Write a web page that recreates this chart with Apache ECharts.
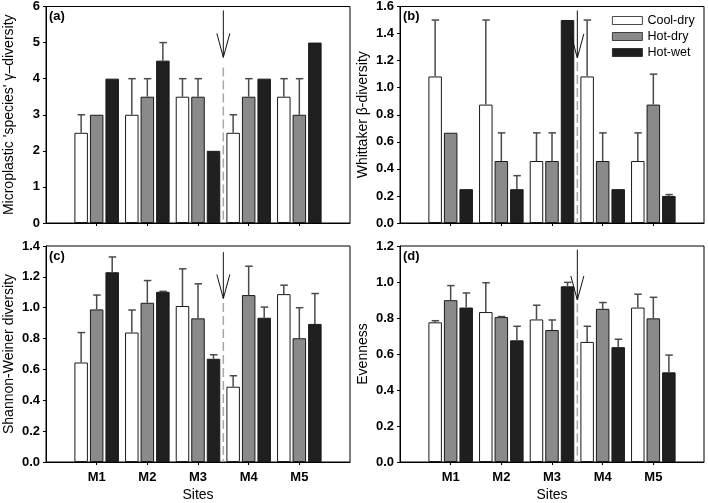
<!DOCTYPE html>
<html><head><meta charset="utf-8">
<script src="https://cdn.jsdelivr.net/npm/echarts@6/dist/echarts.min.js"></script>
<style>html,body{margin:0;padding:0;background:#fff}#c{width:708px;height:503px}</style>
</head><body><div id="c"></div>
<script>
// ---------- data ----------
const categories = ['M1', 'M2', 'M3', 'M4', 'M5'];
const seriesNames = ['Cool-dry', 'Hot-dry', 'Hot-wet'];

// (a) Microplastic 'species' gamma-diversity
const gammaCool = [2.5, 3.0, 3.5, 2.5, 3.5];
const gammaCoolSE = [0.5, 1.0, 0.5, 0.5, 0.5];
const gammaHotDry = [3.0, 3.5, 3.5, 3.5, 3.0];
const gammaHotDrySE = [0, 0.5, 0.5, 0.5, 1.0];
const gammaHotWet = [4.0, 4.5, 2.0, 4.0, 5.0];
const gammaHotWetSE = [0, 0.5, 0, 0, 0];

// (b) Whittaker beta-diversity
const betaCool = [1.083, 0.875, 0.458, 1.083, 0.458];
const betaCoolSE = [0.417, 0.625, 0.208, 0.417, 0.208];
const betaHotDry = [0.667, 0.458, 0.458, 0.458, 0.875];
const betaHotDrySE = [0, 0.208, 0.208, 0.208, 0.225];
const betaHotWet = [0.25, 0.25, 1.5, 0.25, 0.2];
const betaHotWetSE = [0, 0.1, 0, 0, 0.01];

// (c) Shannon-Weiner diversity
const shannonCool = [0.645, 0.839, 1.011, 0.488, 1.088];
const shannonCoolSE = [0.194, 0.146, 0.241, 0.071, 0.058];
const shannonHotDry = [0.989, 1.032, 0.931, 1.082, 0.802];
const shannonHotDrySE = [0.093, 0.144, 0.224, 0.187, 0.198];
const shannonHotWet = [1.23, 1.103, 0.669, 0.935, 0.895];
const shannonHotWetSE = [0.099, 0.003, 0.026, 0.069, 0.197];

// (d) Evenness
const evenCool = [0.776, 0.833, 0.792, 0.667, 0.858];
const evenCoolSE = [0.009, 0.163, 0.079, 0.087, 0.074];
const evenHotDry = [0.899, 0.805, 0.733, 0.851, 0.798];
const evenHotDrySE = [0.081, 0.003, 0.056, 0.035, 0.117];
const evenHotWet = [0.858, 0.676, 0.976, 0.638, 0.498];
const evenHotWetSE = [0.081, 0.078, 0.022, 0.044, 0.096];

// y-axis ranges / ticks
const yMax = [6, 1.6, 1.4, 1.2];
const yStep = [1, 0.2, 0.2, 0.2];
const yNames = ["Microplastic 'species' \u03b3\u2013diversity", 'Whittaker \u03b2-diversity', 'Shannon-Weiner diversity', 'Evenness'];
const panelLabels = ['(a)', '(b)', '(c)', '(d)'];
// arrow annotation between M3 and M4: [x position, arrow top, arrow tip, dashed line top]
const arrowA = [3.5, 5.89, 4.59, 4.31];
const arrowB = [3.5, 1.57, 1.22, 1.19];
const arrowC = [3.5, 1.36, 1.06, 1.03];
const arrowD = [3.5, 1.18, 0.90, 0.88];

// ---------- styles ----------
const FONT = 'Liberation Sans, Arial, sans-serif';
const fills = ['#ffffff', '#8a8a8a', '#1f1f1f'];
const BAR_W = 13.5, BAR_GAP = 0.15;
const BAR_STEP = BAR_W * (1 + BAR_GAP);
const ERR_COLOR = '#4a4a4a';
const grids = [
  {left: 46, top: 6, width: 304, height: 217},
  {left: 400, top: 6, width: 304, height: 217},
  {left: 46, top: 246, width: 304, height: 217},
  {left: 400, top: 246, width: 304, height: 217}
];

const panels = [
  {vals: [gammaCool, gammaHotDry, gammaHotWet], se: [gammaCoolSE, gammaHotDrySE, gammaHotWetSE], arrow: arrowA},
  {vals: [betaCool, betaHotDry, betaHotWet], se: [betaCoolSE, betaHotDrySE, betaHotWetSE], arrow: arrowB},
  {vals: [shannonCool, shannonHotDry, shannonHotWet], se: [shannonCoolSE, shannonHotDrySE, shannonHotWetSE], arrow: arrowC},
  {vals: [evenCool, evenHotDry, evenHotWet], se: [evenCoolSE, evenHotDrySE, evenHotWetSE], arrow: arrowD}
];

function errRender(k) {
  return function (params, api) {
    const x = api.value(0), v = api.value(1), e = api.value(2);
    if (!e) return null;
    const p0 = api.coord([x, v]);
    const p1 = api.coord([x, v + e]);
    const cx = p0[0] + (k - 1) * BAR_STEP;
    return {
      type: 'group', children: [
        {type: 'line', shape: {x1: cx, y1: p0[1], x2: cx, y2: p1[1]}, style: {stroke: ERR_COLOR, lineWidth: 1.5}},
        {type: 'line', shape: {x1: cx - 3.5, y1: p1[1], x2: cx + 4, y2: p1[1]}, style: {stroke: ERR_COLOR, lineWidth: 1.5}}
      ]
    };
  };
}

function arrowRender(params, api) {
  const x = api.value(0);
  const pTop = api.coord([x, api.value(1)]);
  const pTip = api.coord([x, api.value(2)]);
  const pDash = api.coord([x, api.value(3)]);
  const pBase = api.coord([x, 0]);
  return {
    type: 'group', children: [
      {type: 'line', shape: {x1: pDash[0], y1: pDash[1], x2: pBase[0], y2: pBase[1]}, style: {stroke: '#a8a8a8', lineWidth: 1.5, lineDash: [9, 4]}},
      {type: 'line', shape: {x1: pTop[0], y1: pTop[1], x2: pTip[0], y2: pTip[1]}, style: {stroke: '#111', lineWidth: 1}},
      {type: 'polyline', shape: {points: [[pTip[0] - 6.5, pTip[1] - 24], [pTip[0], pTip[1]], [pTip[0] + 6.5, pTip[1] - 24]]}, style: {stroke: '#111', lineWidth: 1, fill: null}}
    ]
  };
}

const xAxes = [], yAxes = [], series = [], graphics = [];
const tickVals = categories.map((c, i) => i + 1);
panels.forEach((p, gi) => {
  const bottom = gi >= 2;
  xAxes.push({
    type: 'value', gridIndex: gi, min: 0, max: categories.length + 1, interval: 1,
    name: bottom ? 'Sites' : '', nameLocation: 'middle', nameGap: 26,
    nameTextStyle: {fontFamily: FONT, fontSize: 14, color: '#000'},
    axisLine: {show: true, lineStyle: {color: '#000', width: 1}},
    axisTick: {show: true, length: 3, lineStyle: {color: '#000'}, customValues: tickVals},
    axisLabel: {show: bottom, customValues: tickVals, margin: 9, fontFamily: FONT, fontSize: 13, fontWeight: 'bold', color: '#000',
      formatter: v => categories[Math.round(v) - 1] || ''},
    splitLine: {show: false}
  });
  yAxes.push({
    type: 'value', gridIndex: gi, min: 0, max: yMax[gi], interval: yStep[gi],
    name: yNames[gi], nameLocation: 'middle', nameGap: 30,
    nameTextStyle: {fontFamily: FONT, fontSize: 14, color: '#000'},
    axisLine: {show: true, lineStyle: {color: '#000', width: 1}},
    axisTick: {show: true, length: 3, lineStyle: {color: '#000'}},
    axisLabel: {margin: 6, fontFamily: FONT, fontSize: 13, fontWeight: 'bold', color: '#000',
      formatter: v => yStep[gi] < 1 ? v.toFixed(1) : String(v)},
    splitLine: {show: false}
  });
  p.vals.forEach((arr, k) => {
    series.push({
      type: 'bar', name: seriesNames[k], xAxisIndex: gi, yAxisIndex: gi,
      barWidth: BAR_W, barGap: (BAR_GAP * 100) + '%',
      itemStyle: {color: fills[k], borderColor: '#1a1a1a', borderWidth: 1},
      data: arr.map((v, i) => [i + 1, v]), z: 2, silent: true
    });
  });
  p.vals.forEach((arr, k) => {
    series.push({
      type: 'custom', xAxisIndex: gi, yAxisIndex: gi, renderItem: errRender(k),
      encode: {x: 0, y: 1}, z: 3, silent: true,
      data: arr.map((v, i) => [i + 1, v, p.se[k][i]])
    });
  });
  series.push({
    type: 'custom', xAxisIndex: gi, yAxisIndex: gi, renderItem: arrowRender,
    encode: {x: 0, y: 1}, z: 4, silent: true, data: [p.arrow]
  });
  graphics.push({type: 'text', left: grids[gi].left + 3, top: grids[gi].top + 4,
    style: {text: panelLabels[gi], font: 'bold 13px ' + FONT, fill: '#000'}, z: 10});
});

const chart = echarts.init(document.getElementById('c'), null, {renderer: 'canvas'});
chart.setOption({
  animation: false,
  backgroundColor: '#fff',
  grid: grids.map(g => Object.assign({show: true, borderColor: '#000', borderWidth: 1, backgroundColor: 'transparent'}, g)),
  xAxis: xAxes,
  yAxis: yAxes,
  legend: {
    data: seriesNames, orient: 'vertical', left: 612, top: 14, padding: 0,
    itemWidth: 30, itemHeight: 8, itemGap: 3, icon: 'rect',
    itemStyle: {borderWidth: 0.8},
    textStyle: {fontFamily: FONT, fontSize: 12.5, color: '#000'}, selectedMode: false
  },
  graphic: graphics,
  series: series
});
</script>
</body></html>
